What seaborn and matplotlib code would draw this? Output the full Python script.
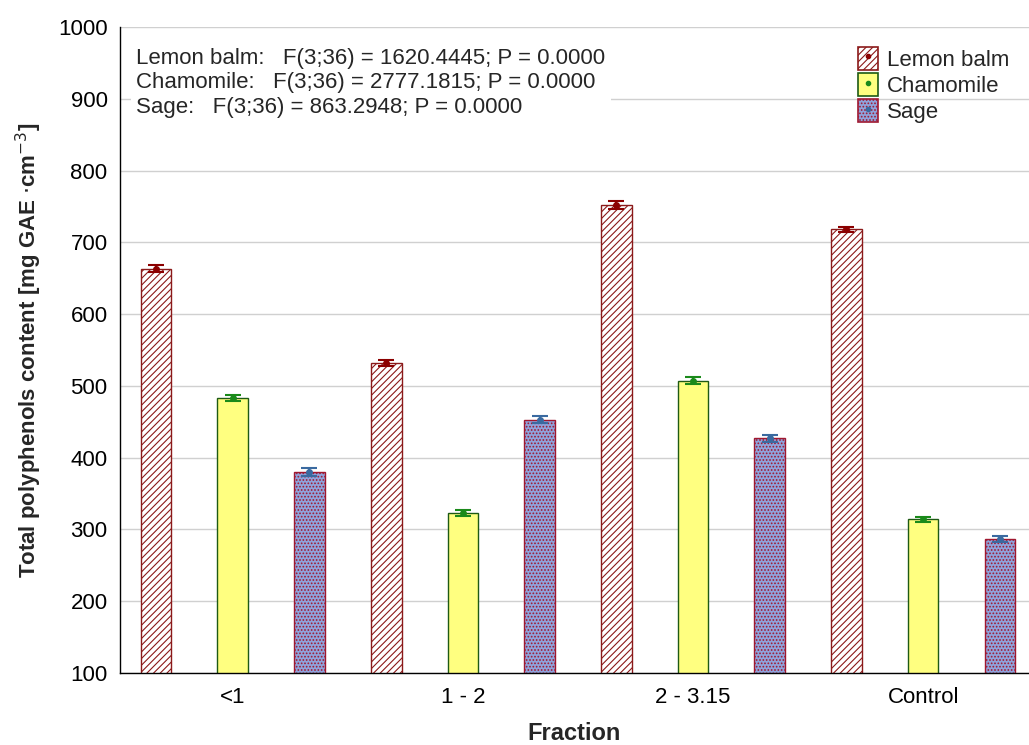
import numpy as np
import pandas as pd
import seaborn as sns
import matplotlib.pyplot as plt
from matplotlib.patches import Patch
from matplotlib.lines import Line2D

# data
fractions = ['<1', '1 - 2', '2 - 3.15', 'Control']
plants = ['Lemon balm', 'Chamomile', 'Sage']
lemon_balm = [663, 532, 752, 718]
chamomile = [483, 323, 507, 314]
sage = [380, 453, 427, 287]
lemon_err = [5, 4, 5, 4]
chamomile_err = [4, 4, 5, 4]
sage_err = [5, 5, 5, 4]
stats_text = ['Lemon balm:   F(3;36) = 1620.4445; P = 0.0000',
              'Chamomile:   F(3;36) = 2777.1815; P = 0.0000',
              'Sage:   F(3;36) = 863.2948; P = 0.0000']

df = pd.DataFrame({
    'Fraction': fractions * 3,
    'Plant': np.repeat(plants, 4),
    'value': lemon_balm + chamomile + sage,
    'err': lemon_err + chamomile_err + sage_err,
})

sns.set_style('white')
plt.rcParams['font.family'] = ['Liberation Sans', 'DejaVu Sans']
plt.rcParams['hatch.linewidth'] = 0.8

fills = {'Lemon balm': '#ffffff', 'Chamomile': '#ffff80', 'Sage': '#8fa3dc'}
edges = {'Lemon balm': '#8b1a1a', 'Chamomile': '#1e5a14', 'Sage': '#a01830'}
hatches = {'Lemon balm': '/////', 'Chamomile': '', 'Sage': '.....'}
errcols = {'Lemon balm': '#8b0000', 'Chamomile': '#1a8a1a', 'Sage': '#3a6aa0'}

fig = plt.figure(figsize=(10.29, 7.45), dpi=100)
ax = fig.add_axes([120 / 1029, 1 - 673 / 745, 909 / 1029, 646 / 745])

sns.barplot(data=df, x='Fraction', y='value', hue='Plant', order=fractions,
            hue_order=plants, width=1.0, gap=0.6, errorbar=None,
            palette=fills, saturation=1, legend=False, ax=ax, zorder=2)

# style bars per plant and add error bars
for cont, plant in zip(ax.containers, plants):
    sub = df[df['Plant'] == plant]
    xs = []
    for bar in cont:
        bar.set_edgecolor(edges[plant])
        bar.set_linewidth(1.0)
        bar.set_hatch(hatches[plant])
        xs.append(bar.get_x() + bar.get_width() / 2)
    ax.errorbar(xs, sub['value'], yerr=sub['err'], fmt='o', ms=4,
                color=errcols[plant], ecolor=errcols[plant], elinewidth=1.5,
                capsize=6, capthick=1.5, zorder=3)

ax.set_ylim(100, 1000)
ax.set_yticks(range(100, 1001, 100))
ax.set_xlim(-0.49, 3.46)
ax.yaxis.grid(True, color='#d0d0d0', linewidth=1, zorder=0)
ax.set_axisbelow(True)
for s in ['top', 'right']:
    ax.spines[s].set_visible(False)
for s in ['left', 'bottom']:
    ax.spines[s].set_color('black')
    ax.spines[s].set_linewidth(1)
ax.tick_params(direction='in', length=3, labelsize=16, colors='black')
ax.tick_params(axis='y', pad=9)
ax.tick_params(axis='x', pad=10)

ax.set_xlabel('Fraction', fontsize=17, fontweight='bold', labelpad=10)
ax.set_ylabel(r'Total polyphenols content [mg GAE $\cdot$cm$^{-3}$]',
              fontsize=16, fontweight='bold', labelpad=10)

ax.text(0.018, 0.968, '\n'.join(stats_text), transform=ax.transAxes,
        fontsize=16, va='top', ha='left', linespacing=1.22,
        bbox=dict(facecolor='white', edgecolor='none', pad=4), zorder=5)

handles = []
for plant in plants:
    p = Patch(facecolor=fills[plant], edgecolor=edges[plant],
              hatch=hatches[plant], linewidth=1.2)
    m = Line2D([], [], marker='o', ms=3, ls='', color=errcols[plant])
    handles.append((p, m))
ax.legend(handles, plants, loc='upper right', bbox_to_anchor=(1.0, 1.0),
          frameon=False, fontsize=16, handlelength=0.9, handleheight=1.2,
          handletextpad=0.4, labelspacing=0.1)

fig.savefig('out.png', dpi=100)
